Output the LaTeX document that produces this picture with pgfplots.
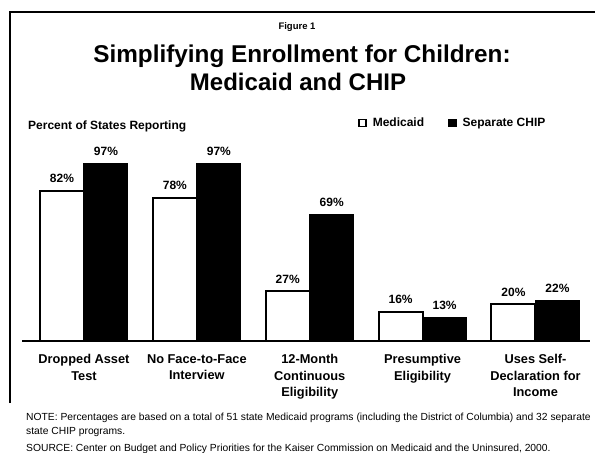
\documentclass[border=0pt]{standalone}
\usepackage{fontspec}
\setmainfont{Liberation Sans}
\usepackage{pgfplots}
\pgfplotsset{compat=1.18}
\begin{document}
\begin{tikzpicture}
\path[use as bounding box] (0,0) rectangle (595bp,-453bp);
\draw[line width=1.5bp] (10bp,-403bp) -- (10bp,-12bp) -- (600bp,-12bp);
\node[font=\bfseries\fontsize{9.5bp}{10bp}\selectfont, anchor=base] at (297bp,-29bp) {Figure 1};
\node[font=\bfseries\fontsize{24.3bp}{27bp}\selectfont, anchor=base] at (302bp,-62bp) {Simplifying Enrollment for Children:};
\node[font=\bfseries\fontsize{24bp}{27bp}\selectfont, anchor=base] at (298bp,-90bp) {Medicaid and CHIP};
\node[font=\bfseries\fontsize{12bp}{13bp}\selectfont, anchor=base west, inner sep=0pt] at (28bp,-129.5bp) {Percent of States Reporting};
\begin{axis}[
  at={(22bp,-341bp)}, anchor=south west,
  scale only axis, width=568bp, height=183.5bp,
  xmin=-0.549, xmax=4.483, ymin=0, ymax=100,
  axis x line=bottom, axis y line=none,
  x axis line style={line width=2.2bp, -},
  ytick=\empty,
  xtick={0,1,2,3,4},
  xticklabels={{Dropped Asset\\Test},{No Face-to-Face\\Interview},{12-Month\\Continuous\\Eligibility},{Presumptive\\Eligibility},{Uses Self-\\Declaration for\\Income}},
  xtick style={draw=none},
  xticklabel style={align=center, anchor=north, inner sep=0pt, yshift=-9bp, font=\bfseries\fontsize{12.8bp}{16.5bp}\selectfont},
  ybar=0pt, bar width=44bp,
  clip=false,
  /pgf/number format/assume math mode=true,
  nodes near coords={\pgfmathprintnumber{\pgfplotspointmeta}\%},
  every node near coord/.append style={font=\bfseries\fontsize{12bp}{13bp}\selectfont, inner sep=0pt, anchor=base, yshift=8bp},
  legend style={at={(0.5915,1.188)}, anchor=west, draw=none, fill=none, inner sep=0pt,
    font=\bfseries\fontsize{12bp}{13bp}\selectfont, legend columns=2,
    /tikz/every odd column/.append style={column sep=4bp},
    /tikz/every even column/.append style={column sep=22bp}},
  legend cell align=left,
  legend image code/.code={\draw[#1, line width=1.6bp] (0bp,-3.5bp) rectangle (7bp,3.5bp);},
]
\addplot[draw=black, fill=white, line width=2bp] coordinates {(0,82) (1,78) (2,27) (3,16) (4,20)};
\addplot[draw=black, fill=black, line width=1bp] coordinates {(0,97) (1,97) (2,69) (3,13) (4,22)};
\legend{Medicaid, Separate CHIP}
\end{axis}
\node[font=\fontsize{10.3bp}{12bp}\selectfont, anchor=base west, inner sep=0pt] at (26bp,-420bp) {NOTE: Percentages are based on a total of 51 state Medicaid programs (including the District of Columbia) and 32 separate};
\node[font=\fontsize{10.3bp}{12bp}\selectfont, anchor=base west, inner sep=0pt] at (26bp,-434.5bp) {state CHIP programs.};
\node[font=\fontsize{10.3bp}{12bp}\selectfont, anchor=base west, inner sep=0pt] at (26bp,-451bp) {SOURCE: Center on Budget and Policy Priorities for the Kaiser Commission on Medicaid and the Uninsured, 2000.};
\end{tikzpicture}
\end{document}
